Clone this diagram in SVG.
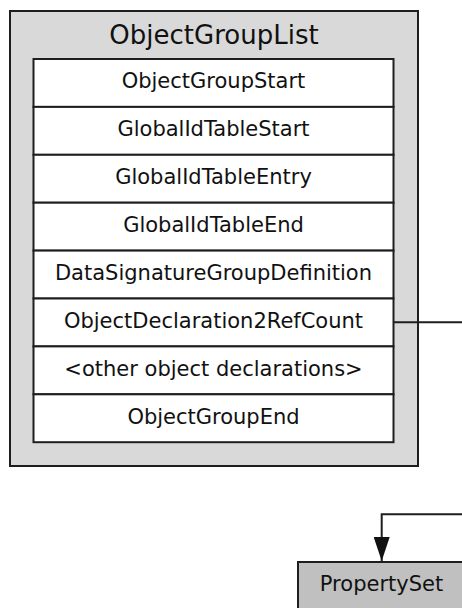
<svg xmlns="http://www.w3.org/2000/svg" width="462" height="608" viewBox="0 0 462 608">
<style>
  .frame { fill: #d9d9d9; stroke: #1e1e1e; stroke-width: 2; }
  .row { fill: #ffffff; stroke: #1e1e1e; stroke-width: 2; }
  .ps { fill: #c0c0c0; stroke: #1e1e1e; stroke-width: 2; }
  .t { font-family: "DejaVu Sans", Verdana, sans-serif; font-size: 21px; fill: #111; text-anchor: middle; }
  .title { font-family: "DejaVu Sans", Verdana, sans-serif; font-size: 26px; fill: #111; text-anchor: middle; }
  .conn { fill: none; stroke: #1e1e1e; stroke-width: 2; }
</style>
<defs>
  <marker id="arrow" markerUnits="userSpaceOnUse" markerWidth="24" markerHeight="16" refX="24" refY="8" viewBox="0 0 24 16" orient="auto">
    <path d="M0,0 L24,8 L0,16 Z" fill="#111"/>
  </marker>
</defs>
<g id="ObjectGroupList">
  <rect class="frame" x="10" y="11" width="408" height="455"/>
  <text class="title" x="214" y="44">ObjectGroupList</text>
</g>
<g id="ObjectGroupStart">
  <rect class="row" x="33.5" y="59" width="360" height="47.9"/>
  <text class="t" x="213.5" y="88">ObjectGroupStart</text>
</g>
<g id="GlobalIdTableStart">
  <rect class="row" x="33.5" y="106.9" width="360" height="47.9"/>
  <text class="t" x="213.5" y="136">GlobalIdTableStart</text>
</g>
<g id="GlobalIdTableEntry">
  <rect class="row" x="33.5" y="154.8" width="360" height="47.9"/>
  <text class="t" x="213.5" y="184">GlobalIdTableEntry</text>
</g>
<g id="GlobalIdTableEnd">
  <rect class="row" x="33.5" y="202.7" width="360" height="47.9"/>
  <text class="t" x="213.5" y="232">GlobalIdTableEnd</text>
</g>
<g id="DataSignatureGroupDefinition">
  <rect class="row" x="33.5" y="250.6" width="360" height="47.9"/>
  <text class="t" x="213.5" y="280">DataSignatureGroupDefinition</text>
</g>
<g id="ObjectDeclaration2RefCount">
  <rect class="row" x="33.5" y="298.5" width="360" height="47.9"/>
  <text class="t" x="213.5" y="328">ObjectDeclaration2RefCount</text>
</g>
<g id="OtherObjectDeclarations">
  <rect class="row" x="33.5" y="346.4" width="360" height="47.9"/>
  <text class="t" x="213.5" y="376">&lt;other object declarations&gt;</text>
</g>
<g id="ObjectGroupEnd">
  <rect class="row" x="33.5" y="394.3" width="360" height="47.9"/>
  <text class="t" x="213.5" y="424">ObjectGroupEnd</text>
</g>
<g id="PropertySet">
  <rect class="ps" x="298" y="562" width="170" height="50"/>
  <text class="t" x="381.5" y="591">PropertySet</text>
</g>
<g id="connectors">
  <path class="conn" d="M393.5 322.3 H480 V514.3 H381.7 V561" marker-end="url(#arrow)"/>
</g>
</svg>
